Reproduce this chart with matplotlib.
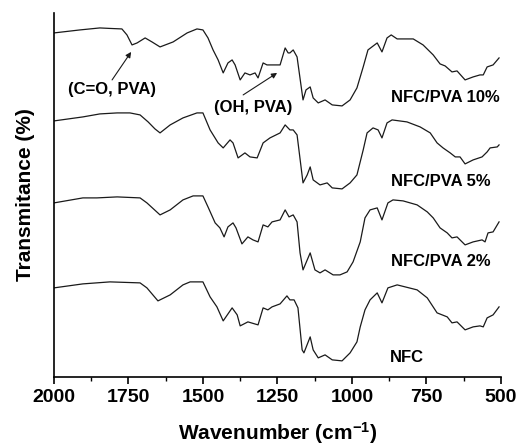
import numpy as np
import matplotlib
matplotlib.use("Agg")
import matplotlib.pyplot as plt
from matplotlib.ticker import MultipleLocator

plt.rcParams['font.family'] = ['Liberation Sans', 'DejaVu Sans']
plt.rcParams['font.weight'] = 'bold'
plt.rcParams['mathtext.fontset'] = 'custom'
plt.rcParams['mathtext.rm'] = 'Liberation Sans:bold'
plt.rcParams['mathtext.default'] = 'rm'

# FTIR spectra, offset transmittance in arbitrary units
wn_10 = [2000, 1913, 1846, 1812, 1772, 1755, 1738, 1721, 1694, 1671, 1644, 1600, 1553,
         1520, 1500, 1483, 1466, 1449, 1432, 1416, 1402, 1392, 1375, 1359, 1342, 1325,
         1315, 1298, 1285, 1258, 1241, 1224, 1214, 1208, 1197, 1184, 1164, 1154, 1140,
         1130, 1113, 1090, 1066, 1033, 1006, 983, 962, 946, 915, 899, 882, 868, 848,
         794, 761, 727, 704, 687, 664, 647, 620, 593, 570, 559, 546, 526, 506]
t_10 = [344, 347, 349, 348.5, 348, 342, 332, 334, 339, 335, 330, 335, 344,
        348, 347, 339, 327, 317, 304, 314, 317, 312, 297, 304, 302, 304,
        299, 314, 312, 312, 312, 329, 324, 324, 327, 320, 277, 287, 290,
        279, 274, 277, 272, 271, 277, 289, 310, 327, 334, 325, 339, 342, 338,
        338, 332, 322, 313, 311, 305, 306, 297, 300, 302, 302, 310, 312, 319]

wn_5 = [2000, 1903, 1846, 1788, 1745, 1711, 1684, 1661, 1644, 1610, 1567, 1520, 1500,
        1476, 1449, 1432, 1409, 1399, 1382, 1359, 1342, 1318, 1298, 1275, 1241, 1224,
        1208, 1197, 1184, 1164, 1150, 1140, 1130, 1107, 1083, 1066, 1033, 1006, 983,
        962, 949, 929, 912, 899, 882, 865, 815, 771, 737, 714, 694, 670, 653, 637,
        620, 593, 563, 546, 536, 512, 506]
t_5 = [256, 260, 263, 264, 264, 262, 255, 248, 244, 252, 259, 264, 264,
       247, 234, 229, 237, 234, 219, 224, 220, 219, 234, 239, 244, 252,
       247, 247, 242, 194, 202, 210, 197, 192, 194, 189, 188, 194, 202,
       227, 244, 249, 247, 239, 254, 257, 255, 250, 244, 234, 229, 224, 220, 220,
       213, 217, 220, 225, 229, 230, 232]

wn_2 = [2000, 1903, 1856, 1788, 1711, 1688, 1644, 1610, 1567, 1533, 1500, 1483, 1459,
        1443, 1429, 1416, 1399, 1389, 1369, 1349, 1332, 1315, 1298, 1282, 1268, 1241,
        1224, 1211, 1197, 1184, 1174, 1164, 1140, 1124, 1107, 1090, 1063, 1040, 1016,
        996, 972, 956, 939, 915, 899, 879, 862, 828, 781, 747, 727, 704, 680, 664,
        647, 620, 593, 563, 553, 543, 526, 506]
t_2 = [174, 179, 179, 180, 179, 174, 162, 167, 177, 181, 181, 170, 154,
       149, 140, 150, 154, 149, 133, 140, 137, 135, 152, 150, 155, 157,
       167, 160, 162, 155, 124, 107, 124, 107, 104, 107, 102, 102, 105,
       115, 135, 159, 167, 169, 157, 174, 177, 176, 172, 165, 159, 149, 144, 139,
       140, 132, 135, 137, 135, 144, 145, 155]

wn_nfc = [2000, 1903, 1812, 1711, 1688, 1651, 1610, 1567, 1543, 1500, 1476, 1453, 1432,
          1402, 1385, 1375, 1349, 1315, 1298, 1282, 1268, 1241, 1218, 1208, 1194, 1181,
          1167, 1161, 1140, 1130, 1113, 1090, 1066, 1033, 1006, 983, 972, 956, 939,
          915, 899, 879, 848, 781, 747, 714, 680, 664, 647, 620, 593, 570, 559, 546,
          526, 506]
t_nfc = [89, 93, 95, 94, 89, 76, 82, 92, 95, 95, 80, 70, 56,
         69, 62, 51, 55, 52, 69, 67, 70, 73, 81, 77, 77, 69,
         27, 24, 40, 27, 19, 22, 17, 16, 24, 35, 50, 67, 77,
         84, 74, 89, 92, 87, 79, 64, 60, 54, 55, 47, 50, 51, 50, 59,
         62, 70]

series = [(wn_10, t_10, "NFC/PVA 10%", 279),
          (wn_5, t_5, "NFC/PVA 5%", 195),
          (wn_2, t_2, "NFC/PVA 2%", 115),
          (wn_nfc, t_nfc, "NFC", 19)]

# band labels: text position, arrow tail, arrow head
bands = [("(C=O, PVA)", (1804, 287), (1805, 297), (1741, 325)),
         ("(OH, PVA)", (1332, 269), (1365, 282), (1251, 304))]

fig = plt.figure(figsize=(5.19, 4.46), dpi=100)
ax = fig.add_axes([0.104, 0.155, 0.861, 0.816])

for wn, t, name, ylab in series:
    ax.plot(wn, t, color='#1a1a1a', linewidth=0.9)
    ax.text(868 if name != "NFC" else 874, ylab, name, fontsize=12,
            fontweight='bold', ha='left', va='center')

for label, txt_pos, tail, head in bands:
    ax.text(*txt_pos, label, fontsize=12, fontweight='bold', ha='center', va='center')
    ax.annotate("", xy=head, xytext=tail,
                arrowprops=dict(arrowstyle='-|>', color='#1a1a1a', lw=0.8,
                                mutation_scale=8, shrinkA=0, shrinkB=0))

ax.set_xlim(2000, 500)
ax.set_ylim(0, 364)
ax.xaxis.set_major_locator(MultipleLocator(250))
ax.xaxis.set_minor_locator(MultipleLocator(125))
ax.set_yticks([])
ax.tick_params(axis='x', which='major', length=5, width=1.2, labelsize=14, pad=4)
ax.tick_params(axis='x', which='minor', length=3, width=1.0)
for lbl in ax.get_xticklabels():
    lbl.set_fontweight('bold')
for s in ['top', 'right']:
    ax.spines[s].set_visible(False)
for s in ['left', 'bottom']:
    ax.spines[s].set_linewidth(1.2)

ax.set_xlabel("Wavenumber (cm$^{-1}$)", fontsize=15, fontweight='bold', labelpad=10)
ax.set_ylabel("Transmitance (%)", fontsize=15, fontweight='bold', labelpad=14)

fig.savefig("out.png", dpi=100)
